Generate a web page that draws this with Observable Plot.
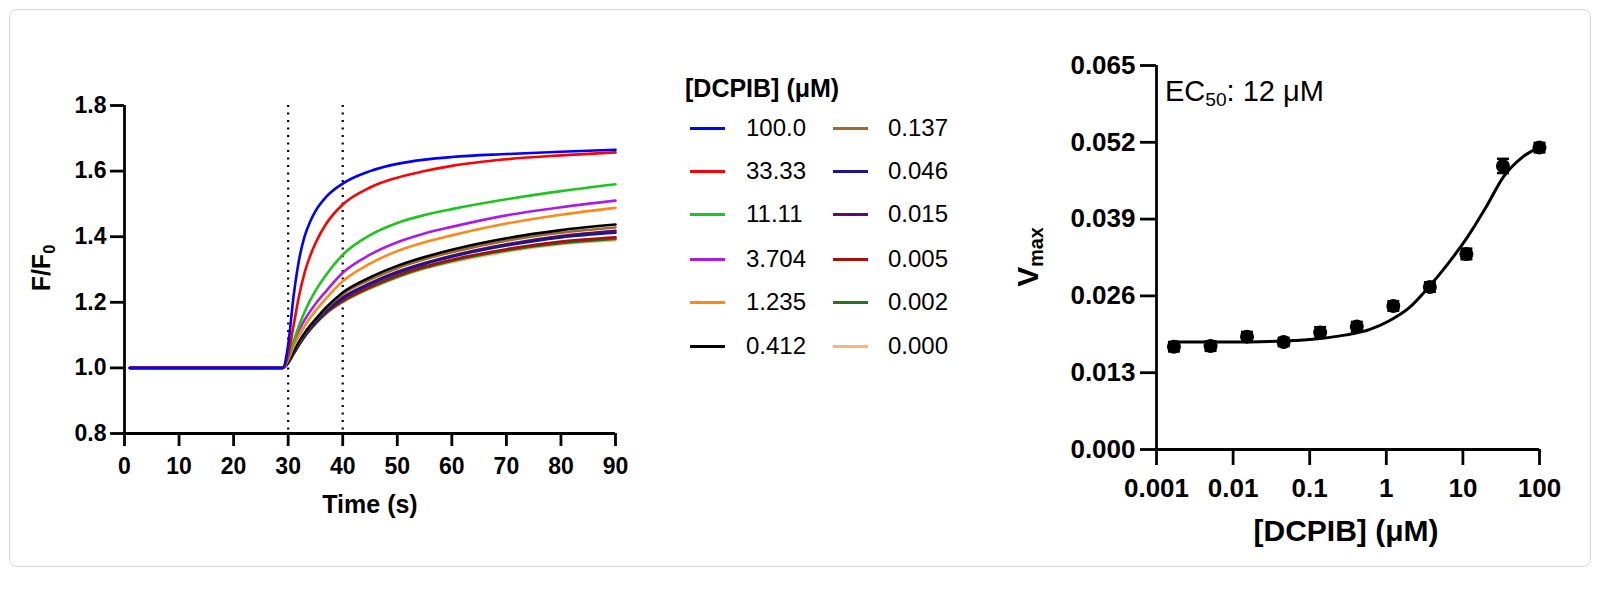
<!DOCTYPE html>
<html>
<head>
<meta charset="utf-8">
<script src="https://cdn.jsdelivr.net/npm/d3@7"></script>
<script src="https://cdn.jsdelivr.net/npm/@observablehq/plot@0.6"></script>
<style>
  html, body { margin: 0; padding: 0; background: #fff; }
  #root { position: relative; width: 1602px; height: 589px; overflow: hidden; font-family: "Liberation Sans", Arial, Helvetica, sans-serif; color: #000; }
  #frame { position: absolute; left: 9px; top: 9px; width: 1580px; height: 556px; border: 1.5px solid #d8d8d8; border-radius: 8px; }
  .abs { position: absolute; white-space: nowrap; line-height: 1; }
  .ctr { transform: translate(-50%, -50%); }
  .rot { transform: translate(-50%, -50%) rotate(-90deg); }
  .sub { font-size: 0.66em; vertical-align: -0.28em; }
  .sw { position: absolute; height: 3px; }
  svg { position: absolute; overflow: visible; }
</style>
</head>
<body>
<div id="root">
  <div id="frame"></div>
</div>
<script>
// ---------------- data: kinetic traces ----------------
const times = [1, 29, 30, 31, 32, 33, 34, 35, 37, 40, 45, 50, 55, 60, 70, 80, 90];

const concLabels = ["100.0", "33.33", "11.11", "3.704", "1.235", "0.412", "0.137", "0.046", "0.015", "0.005", "0.002", "0.000"];
const concColors = ["#0000ff", "#ff0000", "#1fc41f", "#a81ee6", "#ff8a1a", "#000000", "#9a6a30", "#18188a", "#620a5e", "#a80e0e", "#1a781e", "#f6b67c"];

const trace100  = [1, 1, 1.070, 1.220, 1.330, 1.400, 1.445, 1.478, 1.522, 1.562, 1.600, 1.622, 1.635, 1.643, 1.652, 1.659, 1.665];
const trace33   = [1, 1, 1.040, 1.130, 1.220, 1.290, 1.340, 1.380, 1.440, 1.498, 1.550, 1.580, 1.600, 1.616, 1.636, 1.648, 1.657];
const trace11   = [1, 1, 1.030, 1.080, 1.130, 1.170, 1.205, 1.235, 1.285, 1.345, 1.405, 1.442, 1.466, 1.484, 1.514, 1.539, 1.560];
const trace3p7  = [1, 1, 1.035, 1.080, 1.116, 1.146, 1.172, 1.195, 1.235, 1.290, 1.345, 1.383, 1.410, 1.430, 1.465, 1.490, 1.510];
const trace1p2  = [1, 1, 1.025, 1.065, 1.098, 1.127, 1.152, 1.174, 1.213, 1.264, 1.318, 1.356, 1.383, 1.404, 1.440, 1.467, 1.488];
const trace0p41 = [1, 1, 1.018, 1.050, 1.080, 1.106, 1.128, 1.148, 1.185, 1.230, 1.276, 1.311, 1.338, 1.360, 1.395, 1.420, 1.437];
const trace0p14 = [1, 1, 1.017, 1.049, 1.078, 1.104, 1.126, 1.146, 1.182, 1.225, 1.269, 1.304, 1.331, 1.353, 1.388, 1.412, 1.428];
const trace0p05 = [1, 1, 1.016, 1.045, 1.073, 1.098, 1.120, 1.139, 1.173, 1.212, 1.255, 1.290, 1.317, 1.339, 1.373, 1.398, 1.412];
const trace0p02 = [1, 1, 1.016, 1.046, 1.074, 1.099, 1.121, 1.140, 1.175, 1.215, 1.258, 1.293, 1.320, 1.342, 1.377, 1.402, 1.418];
const trace0p005= [1, 1, 1.015, 1.044, 1.071, 1.096, 1.117, 1.136, 1.169, 1.205, 1.247, 1.282, 1.309, 1.330, 1.362, 1.385, 1.398];
const trace0p002= [1, 1, 1.015, 1.043, 1.070, 1.095, 1.116, 1.135, 1.167, 1.202, 1.244, 1.278, 1.305, 1.326, 1.358, 1.380, 1.393];
const trace0    = [1, 1, 1.015, 1.043, 1.070, 1.094, 1.115, 1.134, 1.166, 1.200, 1.241, 1.275, 1.302, 1.322, 1.354, 1.377, 1.389];

const traces = [trace100, trace33, trace11, trace3p7, trace1p2, trace0p41, trace0p14, trace0p05, trace0p02, trace0p005, trace0p002, trace0];

const timeTicks = [0, 10, 20, 30, 40, 50, 60, 70, 80, 90];
const ratioTicks = [0.8, 1.0, 1.2, 1.4, 1.6, 1.8];
const markerTimes = [30, 40];

// ---------------- data: dose response ----------------
const doseConc = [0.00169, 0.00508, 0.0152, 0.0457, 0.137, 0.412, 1.235, 3.704, 11.11, 33.33, 100];
const doseVmax = [0.0174, 0.0175, 0.0191, 0.0182, 0.0198, 0.0208, 0.0243, 0.0275, 0.0331, 0.0480, 0.0511];
const doseSem  = [0.0008, 0.0008, 0.0008, 0.0007, 0.0009, 0.0008, 0.0008, 0.0008, 0.0009, 0.0012, 0.0008];

const fitConc = [0.00169, 0.01, 0.03, 0.1, 0.3, 0.6, 1.1, 2, 3.7, 6, 11, 20, 34, 60, 100];
const fitVmax = [0.0182, 0.0182, 0.0183, 0.0186, 0.0194, 0.0203, 0.0218, 0.0240, 0.0277, 0.0310, 0.0356, 0.0410, 0.0462, 0.0495, 0.0512];

const concTicks = [0.001, 0.01, 0.1, 1, 10, 100];
const concTickLabels = ["0.001", "0.01", "0.1", "1", "10", "100"];
const vmaxTicks = [0, 0.013, 0.026, 0.039, 0.052, 0.065];

// ---------------- build tables ----------------
const traceRows = [];
for (let s = traces.length - 1; s >= 0; s--) {
  traces[s].forEach((v, i) => traceRows.push({series: concLabels[s], t: times[i], r: v}));
}
const doseRows = doseConc.map((c, i) => ({c, v: doseVmax[i], lo: doseVmax[i] - doseSem[i], hi: doseVmax[i] + doseSem[i]}));
const fitRows = fitConc.map((c, i) => ({c, v: fitVmax[i]}));

const FONT = '"Liberation Sans", Arial, Helvetica, sans-serif';
const AX = 2.8;
const capSymbol = { draw(ctx) { ctx.moveTo(-6, 0); ctx.lineTo(6, 0); } };

const root = document.getElementById("root");

// ---------------- left chart ----------------
const left = Plot.plot({
  width: 640, height: 560,
  marginLeft: 124, marginRight: 25, marginTop: 105, marginBottom: 127,
  style: {fontFamily: FONT, fontSize: "23px", fontWeight: "bold", color: "#000", background: "transparent", overflow: "visible"},
  x: {domain: [0, 90]},
  y: {domain: [0.8, 1.8]},
  color: {domain: concLabels, range: concColors},
  marks: [
    Plot.ruleX(markerTimes, {stroke: "#000", strokeWidth: 2.2, strokeDasharray: "2,5.5"}),
    Plot.line(traceRows, {x: "t", y: "r", z: "series", stroke: "series", strokeWidth: 2.6, curve: "monotone-x"}),
    Plot.ruleX([0], {stroke: "#000", strokeWidth: AX}),
    Plot.ruleY([0.8], {stroke: "#000", strokeWidth: AX}),
    Plot.axisX({ticks: timeTicks, tickFormat: d => String(d), tickSize: 13, tickPadding: 11, strokeWidth: AX, label: null}),
    Plot.axisY({ticks: ratioTicks, tickFormat: d3.format(".1f"), tickSize: 14, tickPadding: 4, strokeWidth: AX, label: null})
  ]
});
left.style.left = "0px"; left.style.top = "0px";
root.appendChild(left);

// ---------------- right chart ----------------
const right = Plot.plot({
  width: 620, height: 560,
  marginLeft: 196, marginRight: 41, marginTop: 65, marginBottom: 111,
  style: {fontFamily: FONT, fontSize: "26px", fontWeight: "bold", color: "#000", background: "transparent", overflow: "visible"},
  x: {type: "log", domain: [0.001, 100]},
  y: {domain: [0, 0.065]},
  marks: [
    Plot.ruleX([0.001], {stroke: "#000", strokeWidth: AX}),
    Plot.ruleY([0], {stroke: "#000", strokeWidth: AX}),
    Plot.line(fitRows, {x: "c", y: "v", stroke: "#000", strokeWidth: 3, curve: "monotone-x"}),
    Plot.ruleX(doseRows, {x: "c", y1: "lo", y2: "hi", stroke: "#000", strokeWidth: 2.5}),
    Plot.dot(doseRows, {x: "c", y: "lo", symbol: capSymbol, stroke: "#000", strokeWidth: 2.5}),
    Plot.dot(doseRows, {x: "c", y: "hi", symbol: capSymbol, stroke: "#000", strokeWidth: 2.5}),
    Plot.dot(doseRows, {x: "c", y: "v", r: 7, fill: "#000", stroke: "none"}),
    Plot.axisX({ticks: concTicks, tickFormat: d => concTickLabels[concTicks.indexOf(d)], tickSize: 16, tickPadding: 13, strokeWidth: AX, label: null}),
    Plot.axisY({ticks: vmaxTicks, tickFormat: d3.format(".3f"), tickSize: 16, tickPadding: 5, strokeWidth: AX, label: null})
  ]
});
right.style.left = "960px"; right.style.top = "0px";
root.appendChild(right);

// ---------------- text overlays ----------------
function addText(html, css, cls) {
  const d = document.createElement("div");
  d.className = "abs " + (cls || "");
  d.innerHTML = html;
  Object.assign(d.style, css);
  root.appendChild(d);
  return d;
}
addText('F/F<span class="sub">0</span>', {left: "43px", top: "268px", fontSize: "25px", fontWeight: "bold"}, "rot");
addText('Time (s)', {left: "370px", top: "504px", fontSize: "25px", fontWeight: "bold"}, "ctr");
addText('V<span class="sub">max</span>', {left: "1030px", top: "257px", fontSize: "30px", fontWeight: "bold"}, "rot");
addText('[DCPIB] (μM)', {left: "1346px", top: "531px", fontSize: "30px", fontWeight: "bold"}, "ctr");
addText('EC<span class="sub">50</span>: 12 μM', {left: "1165px", top: "77px", fontSize: "29px"});

// legend
addText('[DCPIB] (μM)', {left: "685px", top: "76px", fontSize: "25px", fontWeight: "bold"});
const rowY = [128, 171, 214, 259, 302, 346];
concLabels.forEach((lab, i) => {
  const col = Math.floor(i / 6), row = i % 6;
  const sw = document.createElement("div");
  sw.className = "sw";
  Object.assign(sw.style, {left: (col ? 833 : 690) + "px", top: (rowY[row] - 1.5) + "px", width: "35px", background: concColors[i]});
  root.appendChild(sw);
  addText(lab, {left: (col ? 888 : 746) + "px", top: (rowY[row] - 12) + "px", fontSize: "24px"});
});
</script>
</body>
</html>
